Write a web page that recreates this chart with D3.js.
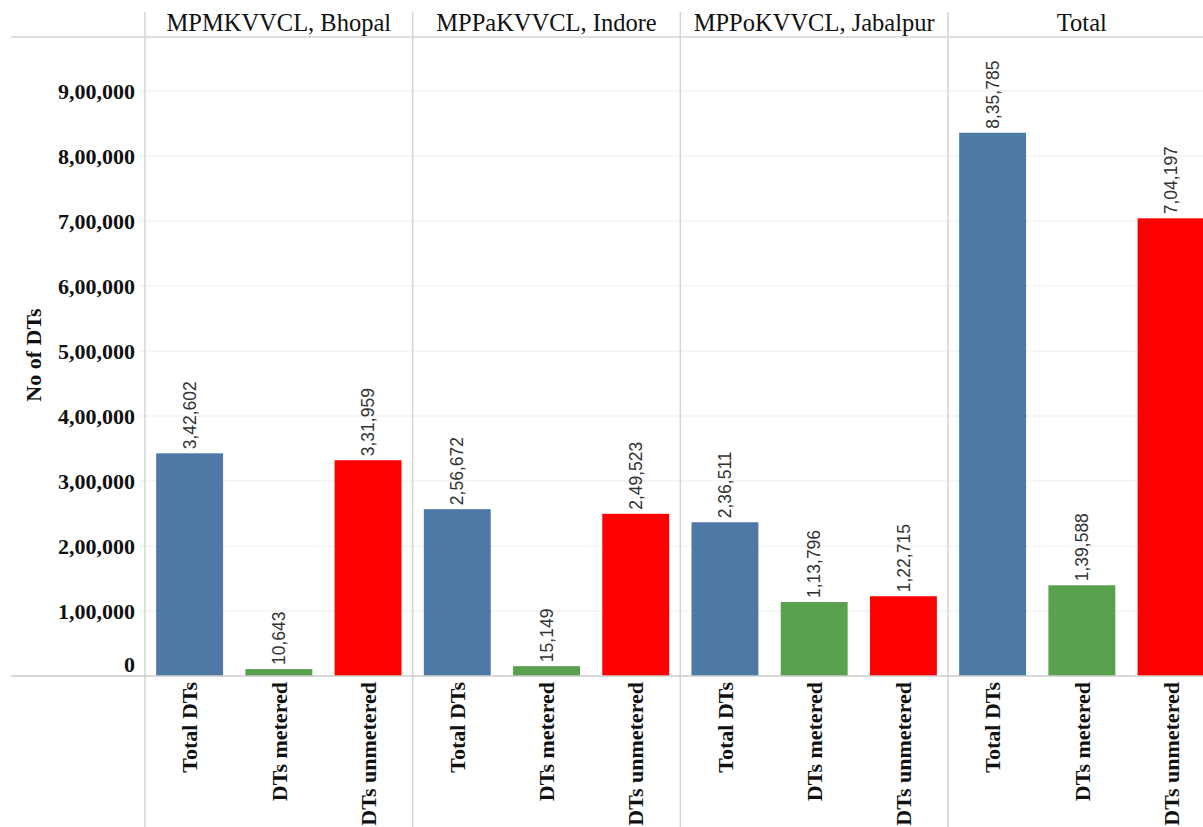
<!DOCTYPE html>
<html>
<head>
<meta charset="utf-8">
<script src="https://cdn.jsdelivr.net/npm/d3@7"></script>
<style>
  body { margin: 0; background: #fff; overflow: hidden; }
  svg { display: block; }
</style>
</head>
<body>
<div class="chart"></div>
<script>
// data
const panels = ['MPMKVVCL, Bhopal', 'MPPaKVVCL, Indore', 'MPPoKVVCL, Jabalpur', 'Total'];
const measures = ['Total DTs', 'DTs metered', 'DTs unmetered'];
const totalDTs = [342602, 256672, 236511, 835785];
const metered = [10643, 15149, 113796, 139588];
const unmetered = [331959, 249523, 122715, 704197];
const yTicks = [0, 100000, 200000, 300000, 400000, 500000, 600000, 700000, 800000, 900000];
const colors = ['#4e79a7', '#59a14f', '#ff0000'];

const width = 1203, height = 827;
const panelW = 267.67;
const left = 145, headerY = 37, baseY = 676;

const rows = panels.map((p, i) => ({
  panel: p,
  values: [totalDTs[i], metered[i], unmetered[i]]
}));

// Indian digit grouping: 8,35,785
const fmt = v => {
  const s = String(v);
  if (s.length <= 3) return s;
  const last3 = s.slice(-3);
  let rest = s.slice(0, -3);
  const parts = [];
  while (rest.length > 2) { parts.unshift(rest.slice(-2)); rest = rest.slice(0, -2); }
  if (rest) parts.unshift(rest);
  return parts.join(',') + ',' + last3;
};

const svg = d3.select('.chart').append('svg')
  .attr('width', width).attr('height', height);

const x0 = d3.scaleBand().domain(panels).range([left, left + panelW * panels.length]);
const x1 = d3.scaleBand().domain(measures).range([0, x0.bandwidth()])
  .paddingInner(0.25).paddingOuter(0.125);
const y = d3.scaleLinear().domain([0, 900000]).range([baseY, 91]);
const color = d3.scaleOrdinal().domain(measures).range(colors);

// gridlines
svg.append('g')
  .selectAll('line')
  .data(yTicks.slice(1))
  .enter().append('line')
  .attr('x1', left - 6).attr('x2', width)
  .attr('y1', d => y(d)).attr('y2', d => y(d))
  .attr('stroke', '#ededed').attr('stroke-width', 1);

// header line
svg.append('line').attr('x1', 11).attr('x2', width)
  .attr('y1', headerY).attr('y2', headerY)
  .attr('stroke', '#d4d4d4').attr('stroke-width', 1.5);

// panel separators
svg.append('g').selectAll('line')
  .data(panels)
  .enter().append('line')
  .attr('x1', d => x0(d)).attr('x2', d => x0(d))
  .attr('y1', 12).attr('y2', height)
  .attr('stroke', '#d4d4d4').attr('stroke-width', 1.5);

// headers
svg.append('g').selectAll('text')
  .data(panels)
  .enter().append('text')
  .attr('x', d => x0(d) + x0.bandwidth() / 2)
  .attr('y', 31)
  .attr('text-anchor', 'middle')
  .attr('font-family', '"Liberation Serif", "Times New Roman", serif')
  .attr('font-size', 24.5)
  .attr('fill', '#111')
  .text(d => d);

// bars
const groups = svg.append('g')
  .selectAll('g')
  .data(rows)
  .enter().append('g')
  .attr('transform', d => `translate(${x0(d.panel)}, 0)`);

const cells = groups.selectAll('g')
  .data(d => measures.map((m, i) => ({ key: m, value: d.values[i] })))
  .enter().append('g');

cells.append('rect')
  .attr('x', d => x1(d.key))
  .attr('width', x1.bandwidth())
  .attr('y', d => y(d.value))
  .attr('height', d => baseY - y(d.value))
  .attr('fill', d => color(d.key));

cells.append('text')
  .attr('transform', d => `translate(${x1(d.key) + x1.bandwidth() / 2}, ${y(d.value) - 4}) rotate(-90)`)
  .attr('dy', '0.35em')
  .attr('font-family', '"Liberation Sans", Arial, sans-serif')
  .attr('font-size', 17.5)
  .attr('fill', '#333')
  .text(d => fmt(d.value));

// category labels under bars
cells.append('text')
  .attr('transform', d => `translate(${x1(d.key) + x1.bandwidth() / 2}, 682) rotate(-90)`)
  .attr('dy', '0.35em')
  .attr('text-anchor', 'end')
  .attr('font-family', '"Liberation Serif", "Times New Roman", serif')
  .attr('font-weight', 'bold')
  .attr('font-size', 22)
  .attr('fill', '#111')
  .text(d => d.key);

// base line
svg.append('line').attr('x1', 11).attr('x2', width)
  .attr('y1', baseY).attr('y2', baseY)
  .attr('stroke', '#cccccc').attr('stroke-width', 1.5);

// y axis labels
svg.append('g').selectAll('text')
  .data(yTicks)
  .enter().append('text')
  .attr('x', 135)
  .attr('y', d => d === 0 ? y(d) - 12 : y(d))
  .attr('dy', '0.35em')
  .attr('text-anchor', 'end')
  .attr('font-family', '"Liberation Serif", "Times New Roman", serif')
  .attr('font-weight', 'bold')
  .attr('font-size', 22)
  .attr('fill', '#111')
  .text(d => fmt(d));

svg.append('text')
  .attr('transform', 'translate(33, 355) rotate(-90)')
  .attr('dy', '0.35em')
  .attr('text-anchor', 'middle')
  .attr('font-family', '"Liberation Serif", "Times New Roman", serif')
  .attr('font-weight', 'bold')
  .attr('font-size', 22)
  .attr('fill', '#111')
  .text('No of DTs');
</script>
</body>
</html>
